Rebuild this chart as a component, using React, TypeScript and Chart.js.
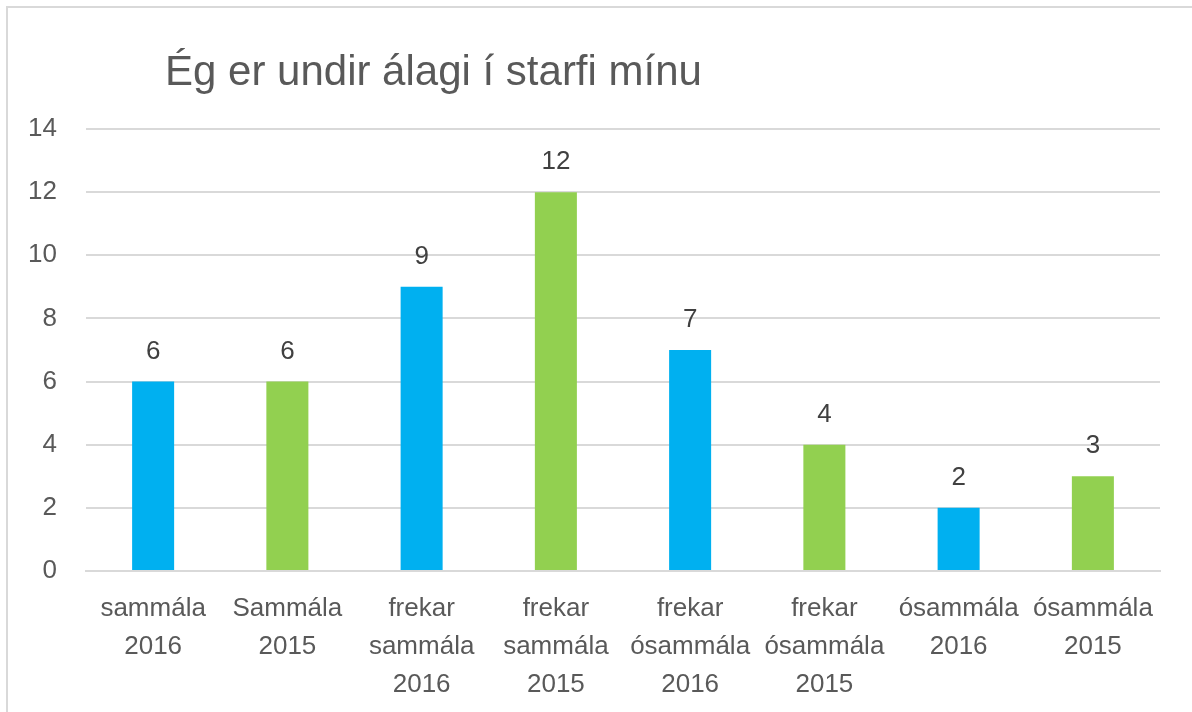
import React, { useEffect, useRef } from "react";
import { Chart, registerables } from "chart.js";

Chart.register(...registerables);

const TITLE = "Ég er undir álagi í starfi mínu";
const categories: string[][] = [
  ["sammála", "2016"],
  ["Sammála", "2015"],
  ["frekar", "sammála", "2016"],
  ["frekar", "sammála", "2015"],
  ["frekar", "ósammála", "2016"],
  ["frekar", "ósammála", "2015"],
  ["ósammála", "2016"],
  ["ósammála", "2015"],
];
const values = [6, 6, 9, 12, 7, 4, 2, 3];
const BLUE = "#00B0F0";
const GREEN = "#92D050";
const barColors = [BLUE, GREEN, BLUE, GREEN, BLUE, GREEN, BLUE, GREEN];
const yMin = 0;
const yMax = 14;
const yStep = 2;

const FONT = "'Liberation Sans', Arial, sans-serif";
const TEXT = "#595959";

const labelPlugin = {
  id: "barLabels",
  afterDatasetsDraw(chart: any) {
    const ctx = chart.ctx;
    const meta = chart.getDatasetMeta(0);
    ctx.save();
    ctx.font = `26px ${FONT}`;
    ctx.fillStyle = "#404040";
    ctx.textAlign = "center";
    ctx.textBaseline = "alphabetic";
    meta.data.forEach((bar: any, i: number) => {
      ctx.fillText(String(values[i]), bar.x, bar.y - 23);
    });
    ctx.restore();
  },
};

const titlePlugin = {
  id: "leftTitle",
  afterDraw(chart: any) {
    const ctx = chart.ctx;
    ctx.save();
    ctx.font = `42px ${FONT}`;
    ctx.fillStyle = TEXT;
    ctx.textAlign = "left";
    ctx.textBaseline = "alphabetic";
    ctx.fillText(TITLE, 165, 85);
    ctx.restore();
  },
};

export default function App() {
  const ref = useRef<HTMLCanvasElement>(null);
  useEffect(() => {
    if (!ref.current) return;
    const chart = new Chart(ref.current, {
      type: "bar",
      data: {
        labels: categories,
        datasets: [
          {
            data: values,
            backgroundColor: barColors,
            borderWidth: 0,
            categoryPercentage: 1,
            barPercentage: 0.313,
          },
        ],
      },
      options: {
        animation: false,
        responsive: true,
        maintainAspectRatio: false,
        layout: { padding: { left: 8, right: 32, top: 129, bottom: 0 } },
        plugins: {
          legend: { display: false },
          title: { display: false },
          tooltip: { enabled: false },
        },
        scales: {
          x: {
            grid: { display: false, drawTicks: false },
            border: { color: "#d9d9d9", width: 2 },
            ticks: {
              color: TEXT,
              font: { family: FONT, size: 26, lineHeight: 1.46 },
              maxRotation: 0,
              minRotation: 0,
              autoSkip: false,
              padding: 19,
            },
            afterFit(scale: any) {
              scale.height = 141;
            },
          },
          y: {
            min: yMin,
            max: yMax,
            grid: { color: "#d9d9d9", lineWidth: 2, drawTicks: false },
            border: { display: false },
            ticks: {
              stepSize: yStep,
              color: TEXT,
              font: { family: FONT, size: 26 },
              padding: 29,
            },
            afterFit(scale: any) {
              scale.width = 78;
            },
          },
        },
      },
      plugins: [labelPlugin, titlePlugin],
    });
    return () => chart.destroy();
  }, []);
  return (
    <div style={{ position: "fixed", left: 0, top: 0, width: 1192, height: 712, background: "#fff" }}>
      <div
        style={{
          position: "absolute",
          left: 6,
          top: 6,
          width: 1210,
          height: 730,
          border: "2px solid #d9d9d9",
          boxSizing: "border-box",
        }}
      />
      <canvas ref={ref} style={{ position: "absolute", left: 0, top: 0 }} />
    </div>
  );
}
